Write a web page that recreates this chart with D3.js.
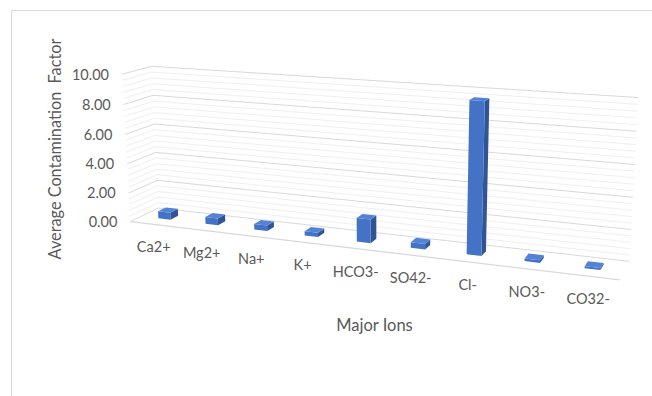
<!DOCTYPE html>
<html>
<head>
<meta charset="utf-8">
<script src="https://cdn.jsdelivr.net/npm/d3@7"></script>
<style>
  html, body { margin: 0; padding: 0; background: #fff; }
  svg { display: block; }
  text { font-family: "Lato", "Open Sans", sans-serif; fill: #595959; white-space: pre; }
</style>
</head>
<body>
<svg id="chart" width="652" height="396"></svg>
<script>
// ---------------- data ----------------
const categories = ["Ca2+", "Mg2+", "Na+", "K+", "HCO3-", "SO42-", "Cl-", "NO3-", "CO32-"];
const values = [0.50, 0.48, 0.38, 0.28, 1.55, 0.36, 9.60, 0.17, 0.12];
const yTicks = [0, 2, 4, 6, 8, 10];
const yTickLabels = ["0.00", "2.00", "4.00", "6.00", "8.00", "10.00"];
const yMinorStep = 0.4;
const yTitle = "Average Contamination  Factor";
const xTitle = "Major Ions";

// ---------------- layout / 3D camera ----------------
// Unit-cube world: u = category axis (0 left .. 1 right), v = value (0..1), w = depth (0 front .. 1 back)
// Camera calibration anchors (frame corners of the 3D box as seen on screen)
const calib = [
  [0, 1.0, 1, 151.7, 66], [0, 0.8, 1, 154, 95], [0, 0.6, 1, 155, 124],
  [0, 0.4, 1, 155.7, 152.3], [0, 0.2, 1, 156.7, 180], [0, 0, 1, 157.5, 208.5],
  [0, 1.0, 0, 120.7, 75], [0, 0.8, 0, 122.7, 105], [0, 0.6, 0, 126, 134],
  [0, 0.4, 0, 127.7, 163.3], [0, 0.2, 0, 129.3, 192.7], [0, 0, 0, 130.5, 222],
  [1, 1.0, 1, 638, 97.7], [1, 0.8, 1, 637, 131.7], [1, 0.6, 1, 635, 164],
  [1, 0.4, 1, 633, 196.7], [1, 0, 1, 629, 262.5],
  [1, 0, 0, 620, 279.3]
];

function solveCamera(pts) {
  const n = 11;
  const M = Array.from({length: n}, () => new Array(n).fill(0));
  const r = new Array(n).fill(0);
  function addRow(a, b) {
    for (let i = 0; i < n; i++) {
      r[i] += a[i] * b;
      for (let j = 0; j < n; j++) M[i][j] += a[i] * a[j];
    }
  }
  pts.forEach(([X, Y, Z, x, y]) => {
    addRow([X, Y, Z, 1, 0, 0, 0, 0, -x * X, -x * Y, -x * Z], x);
    addRow([0, 0, 0, 0, X, Y, Z, 1, -y * X, -y * Y, -y * Z], y);
  });
  for (let c = 0; c < n; c++) {
    let p = c;
    for (let i = c + 1; i < n; i++) if (Math.abs(M[i][c]) > Math.abs(M[p][c])) p = i;
    [M[c], M[p]] = [M[p], M[c]]; [r[c], r[p]] = [r[p], r[c]];
    for (let i = c + 1; i < n; i++) {
      const f = M[i][c] / M[c][c];
      for (let j = c; j < n; j++) M[i][j] -= f * M[c][j];
      r[i] -= f * r[c];
    }
  }
  const s = new Array(n).fill(0);
  for (let i = n - 1; i >= 0; i--) {
    let acc = r[i];
    for (let j = i + 1; j < n; j++) acc -= M[i][j] * s[j];
    s[i] = acc / M[i][i];
  }
  return s;
}
const P = solveCamera(calib);
function project(u, v, w) {
  const d = P[8] * u + P[9] * v + P[10] * w + 1;
  return [(P[0] * u + P[1] * v + P[2] * w + P[3]) / d,
          (P[4] * u + P[5] * v + P[6] * w + P[7]) / d];
}

// scales
const xScale = d3.scalePoint().domain(categories).range([0, 1]).padding(0.5);
const barHalf = xScale.step() * 0.13;
const yScale = d3.scaleLinear().domain([0, 10]).range([0, 1]);
const wFront = 0.38, wBack = 0.66;

const svg = d3.select("#chart");

// chart area border
svg.append("rect").attr("x", 11.5).attr("y", 10.5).attr("width", 660).attr("height", 400)
  .attr("fill", "none").attr("stroke", "#d9d9d9").attr("stroke-width", 1);

const line = d3.line();
const gGrid = svg.append("g");

const minorVals = d3.range(0, 10 + 1e-9, yMinorStep).filter(v => !yTicks.some(t => Math.abs(t - v) < 1e-6));
function gridLine(val, color, width) {
  const v = yScale(val);
  gGrid.append("path")
    .attr("d", line([project(0, v, 0), project(0, v, 1), project(1, v, 1)]))
    .attr("fill", "none").attr("stroke", color).attr("stroke-width", width);
}
minorVals.forEach(v => gridLine(v, "#efefef", 1));
yTicks.forEach(v => gridLine(v, "#d9d9d9", 1));

// floor front edge
gGrid.append("path")
  .attr("d", line([project(0, 0, 0), project(1, 0, 0)]))
  .attr("fill", "none").attr("stroke", "#d9d9d9").attr("stroke-width", 1.3);

// y tick labels
svg.append("g").selectAll("text").data(yTicks).join("text")
  .attr("x", d => project(0, yScale(d), 0)[0] - 13)
  .attr("y", d => project(0, yScale(d), 0)[1])
  .attr("text-anchor", "end").attr("dominant-baseline", "central")
  .style("font-size", "14.5px")
  .text((d, i) => yTickLabels[i]);

// bars
const gBars = svg.append("g");
function poly(pts) { return "M" + pts.map(p => p.join(",")).join("L") + "Z"; }
categories.forEach((c, i) => {
  const uc = xScale(c), u0 = uc - barHalf, u1 = uc + barHalf;
  const v1 = yScale(values[i]);
  const g = gBars.append("g");
  g.append("path").attr("d", poly([project(u1, 0, wFront), project(u1, 0, wBack), project(u1, v1, wBack), project(u1, v1, wFront)]))
    .attr("fill", "#2f5597");
  g.append("path").attr("d", poly([project(u0, 0, wFront), project(u1, 0, wFront), project(u1, v1, wFront), project(u0, v1, wFront)]))
    .attr("fill", "#4472c4");
  g.append("path").attr("d", poly([project(u0, v1, wFront), project(u1, v1, wFront), project(u1, v1, wBack), project(u0, v1, wBack)]))
    .attr("fill", "#5283d6");
});

// category labels
svg.append("g").selectAll("text").data(categories).join("text")
  .attr("x", d => project(xScale(d), 0, 0)[0])
  .attr("y", d => project(xScale(d), 0, 0)[1] + 28)
  .attr("text-anchor", "middle")
  .style("font-size", "14.5px")
  .text(d => d);

// axis titles
svg.append("text").attr("x", 374.5).attr("y", 331).attr("text-anchor", "middle")
  .style("font-size", "16.5px").text(xTitle);
svg.append("text").attr("transform", "translate(61,149) rotate(-90)").attr("text-anchor", "middle")
  .style("font-size", "16.3px").text(yTitle);
</script>
</body>
</html>
